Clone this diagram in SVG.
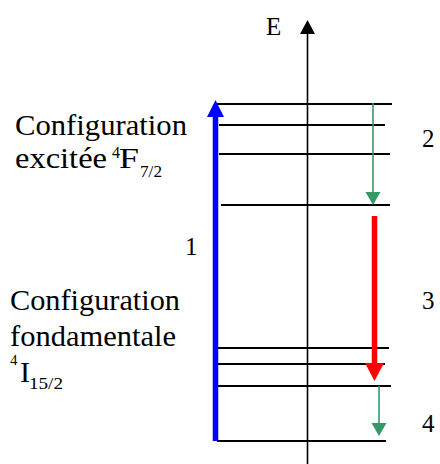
<svg xmlns="http://www.w3.org/2000/svg" width="440" height="464" viewBox="0 0 440 464" font-family="Liberation Serif, Times New Roman, serif">
<style>
.big{font-size:30px}
.num{font-size:25px}
.sup{font-size:16px}
.lvl{stroke:#000;stroke-width:2}
</style>
<defs>
<marker id="hk" markerUnits="userSpaceOnUse" markerWidth="14" markerHeight="15" refX="0" refY="7.5" orient="auto" overflow="visible"><path d="M0,0L14,7.5L0,15Z" fill="#000"/></marker>
<marker id="hb" markerUnits="userSpaceOnUse" markerWidth="17" markerHeight="17" refX="0" refY="8.5" orient="auto" overflow="visible"><path d="M0,0L17,8.5L0,17Z" fill="#0000ff"/></marker>
<marker id="hr" markerUnits="userSpaceOnUse" markerWidth="18" markerHeight="19" refX="0" refY="9.5" orient="auto" overflow="visible"><path d="M0,0L18,9.5L0,19Z" fill="#ff0000"/></marker>
<marker id="hg" markerUnits="userSpaceOnUse" markerWidth="13" markerHeight="15" refX="0" refY="7.5" orient="auto" overflow="visible"><path d="M0,0L13,7.5L0,15Z" fill="#339966"/></marker>
</defs>
<g id="axis">
<line x1="307.5" y1="464" x2="307.5" y2="34" stroke="#000" stroke-width="1.6" marker-end="url(#hk)"/>
<text class="num" x="266" y="35">E</text>
</g>
<g id="levels-excited">
<line class="lvl" x1="217" y1="104" x2="392" y2="104"/>
<line class="lvl" x1="219" y1="125" x2="385" y2="125"/>
<line class="lvl" x1="219" y1="154" x2="390" y2="154"/>
<line class="lvl" x1="221" y1="205" x2="390" y2="205"/>
</g>
<g id="levels-ground">
<line class="lvl" x1="217" y1="348" x2="389" y2="348"/>
<line class="lvl" x1="217" y1="364" x2="385" y2="364"/>
<line class="lvl" x1="217" y1="386" x2="391" y2="386"/>
<line class="lvl" x1="217" y1="441" x2="386" y2="441"/>
</g>
<g id="connectors">
<line x1="215.5" y1="441" x2="215.5" y2="117" stroke="#0000ff" stroke-width="5.5" marker-end="url(#hb)"/>
<line x1="373" y1="103" x2="373" y2="192" stroke="#339966" stroke-width="1.6" marker-end="url(#hg)"/>
<line x1="374.5" y1="216" x2="374.5" y2="363" stroke="#ff0000" stroke-width="5.5" marker-end="url(#hr)"/>
<line x1="379" y1="386" x2="379" y2="423" stroke="#339966" stroke-width="1.6" marker-end="url(#hg)"/>
</g>
<g id="label-excited">
<text class="big" x="15" y="135" textLength="172" lengthAdjust="spacingAndGlyphs">Configuration</text>
<text class="big" x="15" y="168" textLength="92" lengthAdjust="spacingAndGlyphs">excitée</text>
<text class="sup" x="112" y="158">4</text>
<text class="big" x="119" y="168" textLength="20" lengthAdjust="spacingAndGlyphs">F</text>
<text class="sup" x="140" y="177" textLength="22" lengthAdjust="spacingAndGlyphs">7/2</text>
</g>
<g id="label-ground">
<text class="big" x="10" y="310" textLength="170" lengthAdjust="spacingAndGlyphs">Configuration</text>
<text class="big" x="10" y="346" textLength="166" lengthAdjust="spacingAndGlyphs">fondamentale</text>
<text x="10" y="365" font-size="15">4</text>
<text class="big" x="20" y="382">I</text>
<text class="sup" x="29" y="389" textLength="34" lengthAdjust="spacingAndGlyphs">15/2</text>
</g>
<g id="labels-num">
<text class="num" x="185" y="255">1</text>
<text class="num" x="422" y="147">2</text>
<text class="num" x="422" y="309">3</text>
<text class="num" x="422" y="432">4</text>
</g>
</svg>
